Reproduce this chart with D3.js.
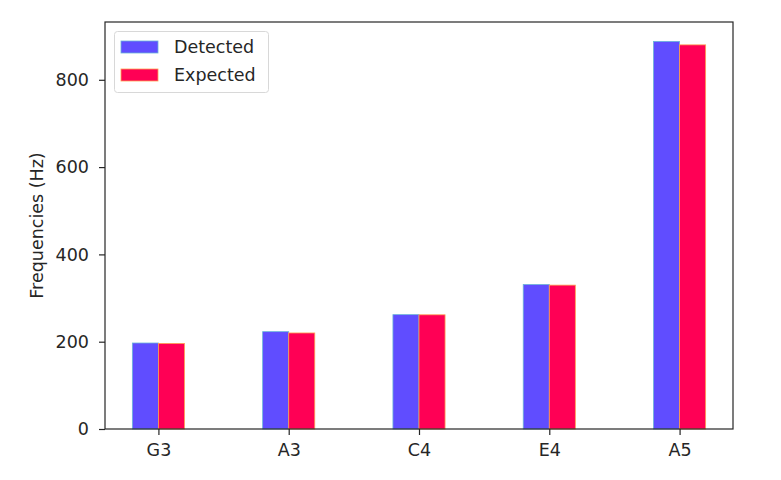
<!DOCTYPE html>
<html><head><meta charset="utf-8">
<script src="https://cdn.jsdelivr.net/npm/d3@7"></script>
<style>body{margin:0;background:#fff}svg{display:block}text{font-family:"DejaVu Sans",sans-serif;fill:#262626}</style>
</head><body>
<svg id="c" width="781" height="480"></svg>
<script>
const categories = ["G3","A3","C4","E4","A5"];
const detected = [197, 223, 262, 331, 888];
const expected = [196, 220, 261.6, 329.6, 880];
const yTicks = [0,200,400,600,800];
const seriesNames = ["Detected","Expected"];
const fills = ["#604dff","#ff0055"];
const edges = ["#6ab4d8","#ffa050"];

const svg = d3.select("#c");
const L=105, R=733, T=22, B=429;
const FS = "17.5px";
const barW = 0.2;
const x = d3.scaleLinear().domain([-0.41, categories.length-1+0.41]).range([L,R]);
const ymax = d3.max(detected.concat(expected))*1.05;
const y = d3.scaleLinear().domain([0, ymax]).range([B,T]);

const series = [detected, expected];
series.forEach((vals,si)=>{
  svg.append("g").selectAll("rect").data(vals).join("rect")
    .attr("x",(d,i)=>x(i + (si===0?-barW:0)))
    .attr("width", x(barW)-x(0))
    .attr("y", d=>y(d))
    .attr("height", d=>y(0)-y(d))
    .attr("fill", fills[si])
    .attr("stroke", edges[si])
    .attr("stroke-width", 0.8);
});

// axes
const xAxis = d3.axisBottom(x).tickValues(d3.range(categories.length)).tickFormat(i=>categories[i]).tickSize(6).tickPadding(9);
const gx = svg.append("g").attr("transform",`translate(0,${B})`).call(xAxis);
const yAxis = d3.axisLeft(y).tickValues(yTicks).tickSize(6).tickPadding(10);
const gy = svg.append("g").attr("transform",`translate(${L},0)`).call(yAxis);
[gx,gy].forEach(g=>{
  g.select(".domain").remove();
  g.selectAll(".tick line").attr("stroke","#262626").attr("stroke-width",1.2);
  g.selectAll(".tick text").style("font-family","DejaVu Sans").style("font-size",FS).attr("fill","#262626");
});
// frame
svg.append("rect").attr("x",L).attr("y",T).attr("width",R-L).attr("height",B-T)
  .attr("fill","none").attr("stroke","#262626").attr("stroke-width",1.2);

svg.append("text").attr("transform",`translate(37,${(T+B)/2}) rotate(-90)`)
  .attr("text-anchor","middle").attr("dy","0.35em").style("font-size",FS).text("Frequencies (Hz)");

// legend
const lg = svg.append("g");
lg.append("rect").attr("x",114.5).attr("y",31.5).attr("width",154).attr("height",61).attr("rx",3)
  .attr("fill","#fff").attr("fill-opacity",0.8).attr("stroke","#d8d8d8");
seriesNames.forEach((n,i)=>{
  lg.append("rect").attr("x",121).attr("y",41+i*28).attr("width",37).attr("height",12)
    .attr("fill",fills[i]).attr("stroke",edges[i]).attr("stroke-width",0.8);
  lg.append("text").attr("x",174).attr("y",47+i*28).attr("dy","0.36em").style("font-size",FS).text(n);
});
</script>
</body></html>
